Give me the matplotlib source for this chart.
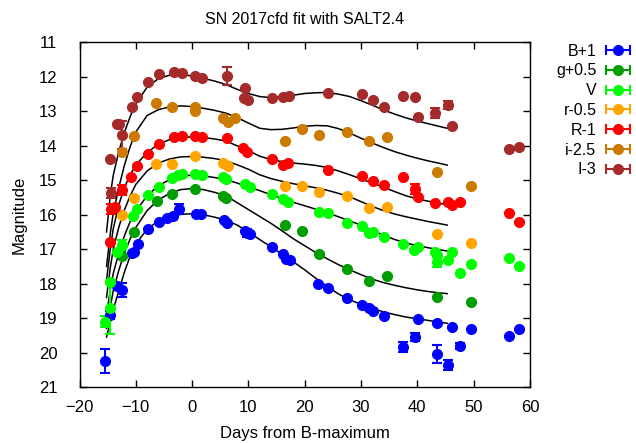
import numpy as np
import matplotlib
matplotlib.use("Agg")
import matplotlib.pyplot as plt
from matplotlib.lines import Line2D
from matplotlib.collections import LineCollection
from matplotlib.container import ErrorbarContainer
from matplotlib.legend_handler import HandlerErrorbar

plt.rcParams['font.family'] = ['Liberation Sans', 'DejaVu Sans']

# ---- photometry (days from B max, magnitude incl. offset, error) ----
b_days = [-15.4, -14.6, -13.4, -12.5, -10.7, -10.4, -9.66, -7.78, -5.88, -4.4, -3.34, -2.38, 0.69, 1.5,
          5.7, 6.15, 9.4, 9.7, 10.3, 14.1, 16.1, 16.6, 17.3, 22.4, 24.2, 27.46, 30.1, 31.5, 32.2, 34.1,
          37.5, 39.5, 40.2, 43.45, 43.45, 45.5, 46.2, 47.6, 49.5, 56.3, 58.1]
b_mags = [20.25, 18.9, 18.07, 18.19, 17.12, 17.07, 16.86, 16.42, 16.2, 16.1, 16.05, 15.84, 15.98, 15.98,
          16.15, 16.25, 16.46, 16.54, 16.55, 16.95, 17.15, 17.28, 17.31, 18.02, 18.12, 18.43, 18.62, 18.72, 18.79, 18.93,
          19.83, 19.54, 19.03, 19.15, 20.04, 20.36, 19.27, 19.81, 19.31, 19.52, 19.33]
b_errs = [0.35, 0.12, 0, 0.2, 0, 0, 0, 0, 0, 0, 0, 0.15, 0, 0,
          0, 0, 0, 0.12, 0, 0, 0, 0, 0, 0, 0, 0, 0, 0, 0, 0,
          0.15, 0.12, 0, 0, 0.25, 0.15, 0, 0.1, 0, 0, 0]

g_days = [-12.4, -10.4, -6.3, -3.6, 0.5, 5.5, 6.1, 16.5, 19.5, 22.5, 27.5, 31.5, 34.6, 43.45, 49.5]
g_mags = [17.21, 16.5, 15.61, 15.39, 15.25, 15.45, 15.52, 16.3, 16.46, 17.15, 17.58, 17.93, 17.78, 18.4, 18.52]
g_errs = [0] * len(g_days)

v_days = [-15.5, -14.6, -14.5, -13.4, -12.4, -10.5, -9.8, -7.78, -5.8, -3.62, -2.45, -1.85, 0.52, 1.7,
          5.5, 6.1, 9.4, 10.2, 14.1, 16.1, 17.1, 22.5, 24.2, 27.5, 30.1, 31.5, 32.2, 34.1, 37.5, 39.4,
          40.2, 43.1, 43.45, 43.45, 45.5, 46.2, 47.6, 49.5, 56.3, 58.1]
v_mags = [19.1, 17.94, 18.7, 17.07, 16.88, 16.05, 15.84, 15.43, 15.19, 14.94, 14.85, 14.82, 14.82, 14.85,
          14.9, 14.95, 15.12, 15.2, 15.4, 15.55, 15.62, 15.93, 15.96, 16.25, 16.32, 16.54, 16.49, 16.64, 16.86, 17.02,
          16.93, 17.07, 17.17, 17.38, 17.31, 17.09, 17.68, 17.44, 17.27, 17.5]
v_errs = [0.15, 0, 0.75, 0, 0.15, 0, 0, 0, 0, 0, 0, 0, 0, 0,
          0, 0, 0, 0, 0, 0, 0, 0, 0, 0, 0, 0, 0, 0, 0, 0,
          0, 0, 0, 0.15, 0, 0, 0, 0, 0, 0]

r_days = [-12.4, -10.4, -6.4, -3.6, 0.5, 5.5, 6.4, 16.5, 19.6, 22.5, 27.5, 31.5, 34.6, 43.45, 49.5]
r_mags = [16.0, 15.52, 14.54, 14.54, 14.3, 14.51, 14.58, 15.18, 15.16, 15.33, 15.46, 15.8, 15.77, 16.57, 16.83]
r_errs = [0] * len(r_days)

R_days = [-14.6, -14.45, -13.7, -12.4, -10.9, -9.73, -7.8, -5.8, -3.3, -1.85, 0.5, 1.7, 6.15, 9.1, 9.7,
          14.1, 16.1, 17.1, 24.2, 30.1, 32.2, 34.1, 37.5, 39.5, 40.2, 43.1, 45.5, 46.1, 47.5, 56.3, 58.1]
R_mags = [16.78, 15.84, 15.78, 15.28, 14.9, 14.58, 14.24, 13.95, 13.75, 13.71, 13.71, 13.73, 13.78, 14.07, 14.17,
          14.39, 14.56, 14.51, 14.7, 14.88, 15.01, 15.14, 14.91, 15.26, 15.48, 15.65, 15.62, 15.72, 15.62, 15.96, 16.2]
R_errs = [0, 0.15, 0, 0.15, 0, 0, 0, 0, 0, 0, 0, 0, 0, 0, 0,
          0, 0, 0, 0, 0, 0, 0, 0, 0.15, 0, 0, 0, 0, 0, 0, 0]

i_days = [-12.4, -10.4, -6.4, -3.5, 0.5, 0.5, 5.5, 6.4, 7.7, 16.5, 19.6, 22.5, 27.5, 31.5, 34.6, 43.45, 49.5]
i_mags = [14.17, 13.71, 12.75, 12.86, 12.86, 13.0, 13.2, 13.3, 13.2, 13.85, 13.52, 13.69, 13.61, 13.85, 13.73, 14.76, 15.16]
i_errs = [0] * len(i_days)

I_days = [-14.6, -14.45, -13.4, -13.0, -12.4, -10.7, -9.84, -7.8, -5.8, -3.3, -1.85, 0.5, 1.7, 6.15, 9.4, 9.2,
          10.0, 14.1, 16.1, 17.27, 24.2, 30.1, 32.2, 34.1, 37.5, 39.5, 40.2, 43.1, 45.5, 46.1, 56.3, 58.1]
I_mags = [14.39, 15.36, 13.37, 13.37, 13.69, 12.86, 12.57, 12.14, 11.92, 11.85, 11.89, 11.96, 12.04, 11.97, 12.33, 12.62,
          12.67, 12.62, 12.57, 12.55, 12.47, 12.5, 12.67, 12.86, 12.55, 12.57, 13.15, 13.04, 12.81, 13.41, 14.09, 14.02]
I_errs = [0, 0.15, 0, 0, 0.4, 0, 0, 0, 0, 0, 0, 0, 0, 0.25, 0, 0,
          0, 0, 0, 0, 0, 0, 0, 0, 0, 0, 0, 0.15, 0.12, 0, 0, 0]

# ---- SALT2 model curves ----
model_days = [-15.2, -14.5, -14, -13, -12, -11, -10, -8, -6, -4, -2, 0, 2, 4, 6, 8, 10, 12, 14, 16, 18,
              20, 22, 24, 26, 28, 30, 32, 34, 36, 38, 40, 42, 44, 45.3]
model_I = [16.5, 15.4, 14.85, 14.15, 13.6, 13.15, 12.78, 12.3, 12.05, 11.95, 11.93, 11.97, 12.04, 12.12, 12.22,
           12.36, 12.48, 12.57, 12.6, 12.57, 12.53, 12.48, 12.46, 12.45, 12.5, 12.57, 12.69, 12.82, 12.96, 13.08,
           13.19, 13.28, 13.36, 13.44, 13.49]
model_i = [17.5, 16.5, 15.95, 15.2, 14.55, 14.02, 13.6, 13.12, 12.95, 12.87, 12.84, 12.86, 12.91, 12.97, 13.05,
           13.18, 13.34, 13.49, 13.53, 13.52, 13.48, 13.43, 13.41, 13.42, 13.5, 13.63, 13.78, 13.92, 14.05, 14.17,
           14.27, 14.36, 14.44, 14.51, 14.56]
model_R = [17.9, 16.95, 16.4, 15.7, 15.2, 14.85, 14.55, 14.2, 13.95, 13.82, 13.76, 13.74, 13.76, 13.8, 13.86,
           14.0, 14.14, 14.3, 14.4, 14.46, 14.5, 14.53, 14.57, 14.63, 14.73, 14.84, 14.96, 15.08, 15.2, 15.33,
           15.45, 15.54, 15.61, 15.67, 15.71]
model_r = [18.4, 17.5, 17.0, 16.35, 15.85, 15.45, 15.12, 14.73, 14.5, 14.38, 14.32, 14.31, 14.33, 14.37, 14.43,
           14.55, 14.68, 14.84, 14.95, 15.03, 15.1, 15.16, 15.22, 15.29, 15.38, 15.48, 15.62, 15.76, 15.88, 15.98,
           16.06, 16.13, 16.2, 16.26, 16.3]
model_V = [18.9, 18.15, 17.7, 17.1, 16.6, 16.2, 15.9, 15.45, 15.16, 14.98, 14.88, 14.85, 14.87, 14.92, 14.98,
           15.08, 15.2, 15.3, 15.42, 15.53, 15.64, 15.74, 15.84, 15.94, 16.06, 16.18, 16.3, 16.45, 16.6, 16.72,
           16.82, 16.9, 16.96, 17.02, 17.05]
model_g = [19.3, 18.65, 18.2, 17.6, 17.1, 16.7, 16.37, 15.88, 15.57, 15.38, 15.27, 15.24, 15.27, 15.35, 15.45,
           15.65, 15.85, 16.05, 16.25, 16.47, 16.7, 16.9, 17.1, 17.28, 17.45, 17.6, 17.74, 17.87, 17.97, 18.05,
           18.12, 18.18, 18.23, 18.27, 18.29]
model_B = [19.55, 19.1, 18.75, 18.2, 17.65, 17.2, 16.85, 16.42, 16.18, 16.05, 15.99, 15.97, 16.0, 16.07, 16.16,
           16.3, 16.5, 16.72, 16.93, 17.15, 17.37, 17.6, 17.85, 18.08, 18.3, 18.47, 18.6, 18.72, 18.82, 18.9,
           18.97, 19.02, 19.07, 19.12, 19.15]

labels = ['B+1', 'g+0.5', 'V', 'r-0.5', 'R-1', 'i-2.5', 'I-3']
colors = ['#0000ff', '#009e00', '#00ff00', '#ffa500', '#ff0000', '#cc7a00', '#a52a2a']
bands = [(b_days, b_mags, b_errs), (g_days, g_mags, g_errs), (v_days, v_mags, v_errs),
         (r_days, r_mags, r_errs), (R_days, R_mags, R_errs), (i_days, i_mags, i_errs),
         (I_days, I_mags, I_errs)]
models = [model_B, model_g, model_V, model_r, model_R, model_i, model_I]

fig = plt.figure(figsize=(6.36, 4.43), dpi=100)
ax = fig.add_axes([0.125, 0.1264, 0.7083, 0.7777])

for m in models:
    ax.plot(model_days, m, color='black', lw=1.1, zorder=2)

handles = []
for (d, mg, e), c, lab in zip(bands, colors, labels):
    ax.errorbar(d, mg, yerr=e, fmt='o', color=c, ms=7, mec=c, elinewidth=1.5,
                capsize=3.5, capthick=1.5, zorder=3)
    # legend proxy drawn gnuplot style (horizontal bar with caps)
    pl = Line2D([], [], ls='none', marker='o', color=c, ms=7)
    cl = Line2D([], [], ls='none', marker='|', color=c, ms=7, mew=1.5)
    lc = LineCollection([], colors=c, linewidths=1.5)
    handles.append(ErrorbarContainer((pl, (cl,), (lc,)), has_xerr=True, has_yerr=False, label=lab))

ax.set_xlim(-20, 60)
ax.set_ylim(21, 11)
ax.set_xticks(np.arange(-20, 61, 10))
ax.set_yticks(np.arange(11, 22, 1))
ax.tick_params(direction='in', length=5, width=1, top=True, right=True, labelsize=12)
ax.tick_params(axis='y', pad=16)
ax.tick_params(axis='x', pad=9)
for s in ax.spines.values():
    s.set_linewidth(1)

ax.set_title('SN 2017cfd fit with SALT2.4', fontsize=11.5, pad=13)
ax.set_xlabel('Days from B-maximum', fontsize=12, labelpad=8)
ax.set_ylabel('Magnitude', fontsize=12, labelpad=9)

fig.legend(handles=handles, labels=labels, loc='upper right', bbox_to_anchor=(1.003, 0.916),
           frameon=False, markerfirst=False, fontsize=11.5, handlelength=1.7, labelspacing=0.3,
           handletextpad=0.5, borderaxespad=0,
           handler_map={ErrorbarContainer: HandlerErrorbar(xerr_size=0.75)})

fig.savefig('out.png', dpi=100)
